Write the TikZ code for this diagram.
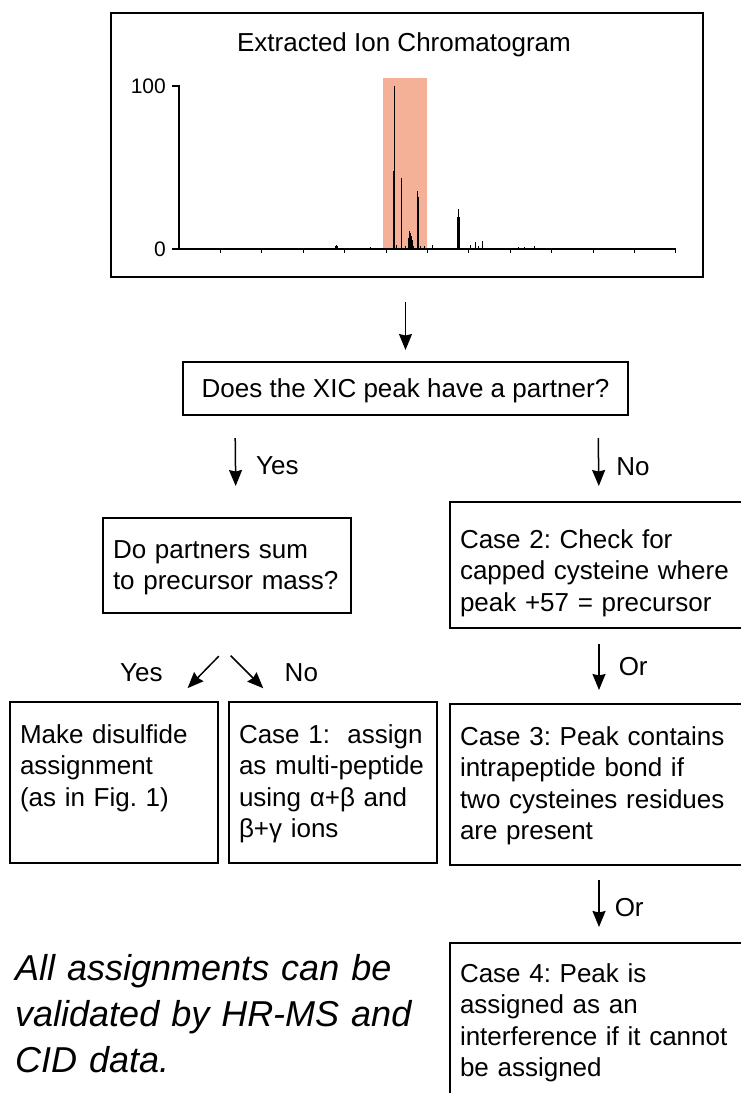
\documentclass[tikz,border=0pt]{standalone}
\usepackage{fontspec}
\setmainfont{Liberation Sans}
\usetikzlibrary{positioning,arrows.meta}
\frenchspacing
\newcommand{\flowfont}{\fontsize{26}{31.5}\selectfont}
\definecolor{band}{RGB}{245,177,152}
\tikzstyle{panel}=[rectangle, draw, line width=2.4pt]
\tikzstyle{query}=[rectangle, draw, line width=2pt, font=\flowfont, text height=19pt, text depth=1pt]
\tikzstyle{case}=[rectangle, draw, line width=2pt, font=\flowfont, align=left, anchor=north west, inner xsep=10pt, inner ysep=0pt]
\tikzstyle{answer}=[font=\flowfont, inner sep=2pt]
\tikzstyle{note}=[font=\fontsize{36}{46}\selectfont\itshape, align=left, text width=440pt, anchor=base west, inner sep=0pt]
\tikzstyle{link}=[-{Stealth[length=16pt, width=13pt, inset=1.5pt]}, line width=1.5pt]
\tikzstyle{axis}=[line width=1.4pt]

\begin{document}
\begin{tikzpicture}[x=1pt, y=-1pt]
\useasboundingbox (0,0) rectangle (741,1093);

%% chromatogram
\node[panel, minimum width=592pt, minimum height=264pt] (xic) at (407,145) {};
\node[font=\flowfont] (title) at (404,45) {Extracted Ion Chromatogram};
\fill[band] (383,78) rectangle (427,249);
\foreach \x/\y in {335/246,336/245,337/246,370/247,393/171,394/86,396/245,401/178,405/246,
  408/238,409/231,410/233,411/236,412/240,413/246,417/191,418/197,420/246,424/246,432/245,
  457/217,458/209,459/217,470/245,475/242,478/246,482/241,518/247,524/247,534/246}
  \draw[line width=1pt] (\x,249) -- (\x,\y);
\draw[axis] (172,86) -- (179,86) -- (179,249) -- (676,249);
\draw[axis] (172,249) -- (179,249);
\foreach \i in {1,...,12}
  \draw[line width=1pt] (179+41.4*\i,249) -- ++(0,4);
\node[font=\fontsize{21}{24}\selectfont, anchor=east, inner sep=1pt] (full) at (167,86) {100};
\node[font=\fontsize{21}{24}\selectfont, anchor=east, inner sep=1pt] (zero) at (167,249) {0};

%% flow chart
\node[query, minimum width=445pt, minimum height=53pt] (partner) at (405.5,388.5) {Does the XIC peak have a partner?};
\node[case, text width=228pt, text height=40pt, text depth=55pt] (sum) at (102,517)
  {Do partners sum\\to precursor mass?};
\node[case, text width=280pt, text height=46pt, text depth=80pt] (capped) at (449,501)
  {Case 2: Check for\\capped cysteine where\\peak +57 = precursor};
\node[case, text width=188pt, text height=41pt, text depth=120pt] (disulfide) at (9,701)
  {Make disulfide\\assignment\\(as in Fig. 1)};
\node[case, text width=188pt, text height=41pt, text depth=120pt] (multi) [right=9pt of disulfide.north east, anchor=north west]
  {Case 1:~ assign\\as multi-peptide\\using α+β and\\β+γ ions};
\node[case, text width=280pt, text height=41pt, text depth=120pt] (intra) [below=74pt of capped.south west, anchor=north west]
  {Case 3: Peak contains\\intrapeptide bond if\\two cysteines residues\\are present};
\node[case, text width=280pt, text height=39pt, text depth=160pt] (interf) [below=76pt of intra.south west, anchor=north west]
  {Case 4: Peak is\\assigned as an\\interference if it cannot\\be assigned};
\node[note] (remark) at (15,980) {All assignments can be\\validated by HR-MS and\\CID data.};

\draw[link, shorten <=24pt, shorten >=11pt] (xic.south -| partner.north) -- (partner.north);
\draw[link, shorten <=22pt, shorten >=31pt] ([xshift=53pt]partner.south west)
  -- node[answer, right=18pt, pos=.49] {Yes} ([xshift=134pt]sum.north west);
\draw[link, shorten <=22pt, shorten >=15pt] ([xshift=416pt]partner.south west)
  -- node[answer, right=15pt, pos=.6] {No} ([xshift=150pt]capped.north west);
\draw[link, shorten <=59pt, shorten >=18pt] ([xshift=158pt]sum.south west)
  -- node[answer, left=37pt, pos=.678] {Yes} ([xshift=166pt]disulfide.north west);
\draw[link, shorten <=59pt, shorten >=18pt] ([xshift=87pt]sum.south west)
  -- node[answer, right=34pt, pos=.678] {No} ([xshift=48pt]multi.north west);
\draw[link, shorten <=15pt, shorten >=13pt] ([xshift=150pt]capped.south west)
  -- node[answer, right=17pt, pos=.51] {Or} ([xshift=150pt]intra.north west);
\draw[link, shorten <=14pt, shorten >=15pt] ([xshift=150pt]intra.south west)
  -- node[answer, right=13pt, pos=.54] {Or} ([xshift=150pt]interf.north west);

\end{tikzpicture}
\end{document}
